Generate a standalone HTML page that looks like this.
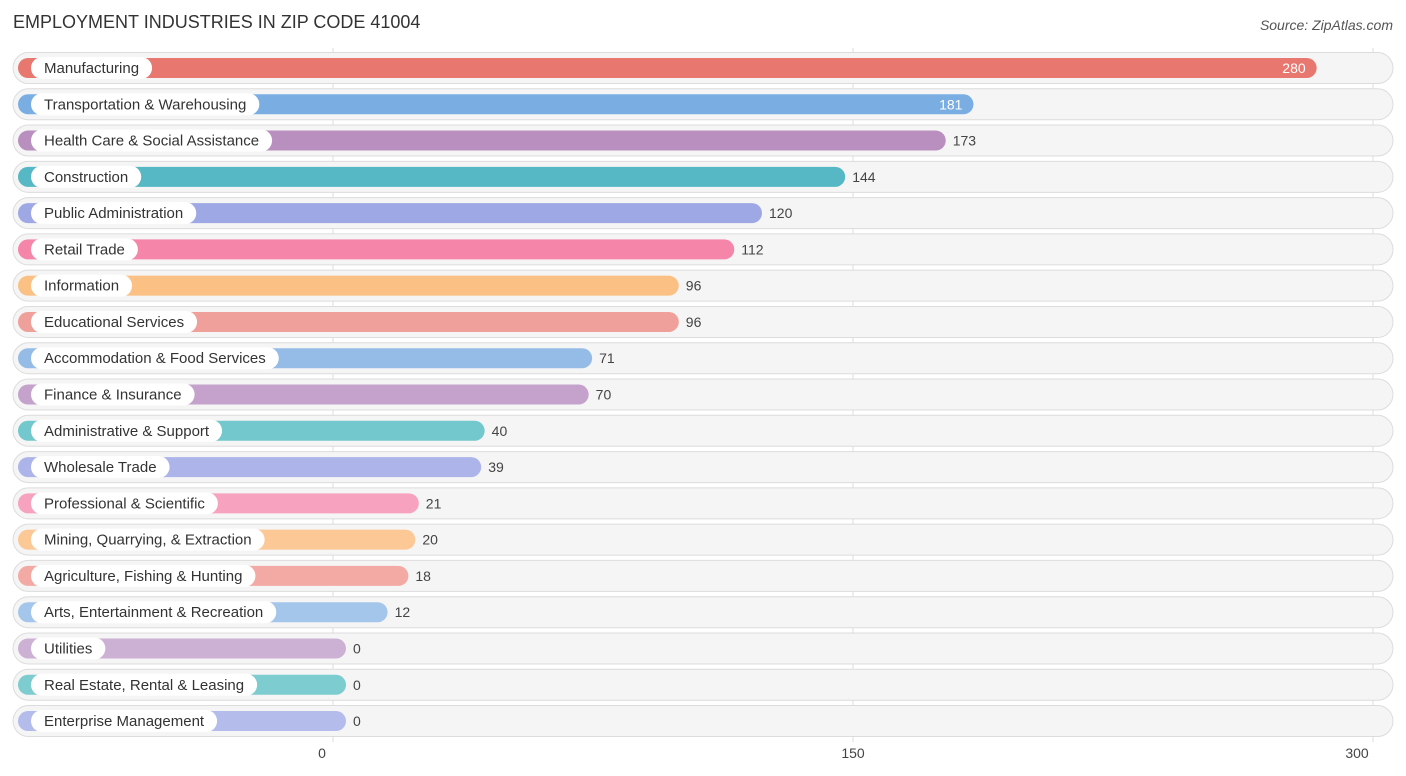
<!DOCTYPE html>
<html><head><meta charset="utf-8"><style>
body{margin:0;background:#fff;font-family:"Liberation Sans",sans-serif;}
svg{display:block}
</style></head><body>
<svg id="c" width="1406" height="776">
<text x="13" y="28" font-size="18" fill="#333">EMPLOYMENT INDUSTRIES IN ZIP CODE 41004</text>
<text x="1393" y="30" font-size="14" fill="#555" font-style="italic" text-anchor="end">Source: ZipAtlas.com</text>
</svg>
<script>
const categories=["Manufacturing","Transportation & Warehousing","Health Care & Social Assistance","Construction","Public Administration","Retail Trade","Information","Educational Services","Accommodation & Food Services","Finance & Insurance","Administrative & Support","Wholesale Trade","Professional & Scientific","Mining, Quarrying, & Extraction","Agriculture, Fishing & Hunting","Arts, Entertainment & Recreation","Utilities","Real Estate, Rental & Leasing","Enterprise Management"];
const values=[280,181,173,144,120,112,96,96,71,70,40,39,21,20,18,12,0,0,0];
const colors=["#e8776f","#7aaee3","#b98fbf","#55b8c4","#9ea8e4","#f586aa","#fbc184","#f0a09a","#95bce6","#c4a2cb","#72c8cc","#adb4ea","#f7a3c0","#fcc896","#f3aaa4","#a4c6eb","#cdb1d4","#7dccd0","#b4bcec"];
const ticks=[0,150,300];
const svg=document.getElementById('c');const NS="http://www.w3.org/2000/svg";
const x=v=>333+v*(520/150);
const rowY=i=>68+i*36.28;
function el(t,a,p){const e=document.createElementNS(NS,t);for(const k in a)e.setAttribute(k,a[k]);(p||svg).appendChild(e);return e;}
const g=el('g',{});


ticks.forEach(t=>{
 const l=el('line',{x1:x(t),x2:x(t),y1:48,y2:742,stroke:'#ddd','stroke-width':1},g);
 
 
 const tx=el('text',{x:x(t)-(t===0?11:t===300?16:0),y:758,'font-size':14,fill:'#444','text-anchor':'middle'});
 tx.textContent=t;
 
 
});
categories.forEach((c,i)=>{
 const y=rowY(i);
 const row=el('g',{});
 
 
 const bg=el('rect',{x:13,y:y-15.5,width:1380,height:31,rx:15.5,fill:'#f5f5f5',stroke:'#dcdcdc','stroke-width':1},row);
 
 
 const end=x(values[i])+13;
 const b=el('rect',{x:18,y:y-10,width:end-18,height:20,rx:10,fill:colors[i]},row);
 
 
 const lab=el('text',{x:44,y:y+5,'font-size':15,fill:'#333'},row);
 lab.textContent=c;
 const w=lab.getComputedTextLength();
 const pill=el('rect',{x:31,y:y-11,width:w+26,height:22,rx:11,fill:'#fff'},row);
 
 
 row.appendChild(lab);
 
 
 const inside=values[i]>=181;
 const vt=el('text',{x:inside?end-11:end+7,y:y+5,'font-size':14,fill:inside?'#fff':'#444','text-anchor':inside?'end':'start'},row);
 vt.textContent=values[i];
 
 
});
</script>
</body></html>
